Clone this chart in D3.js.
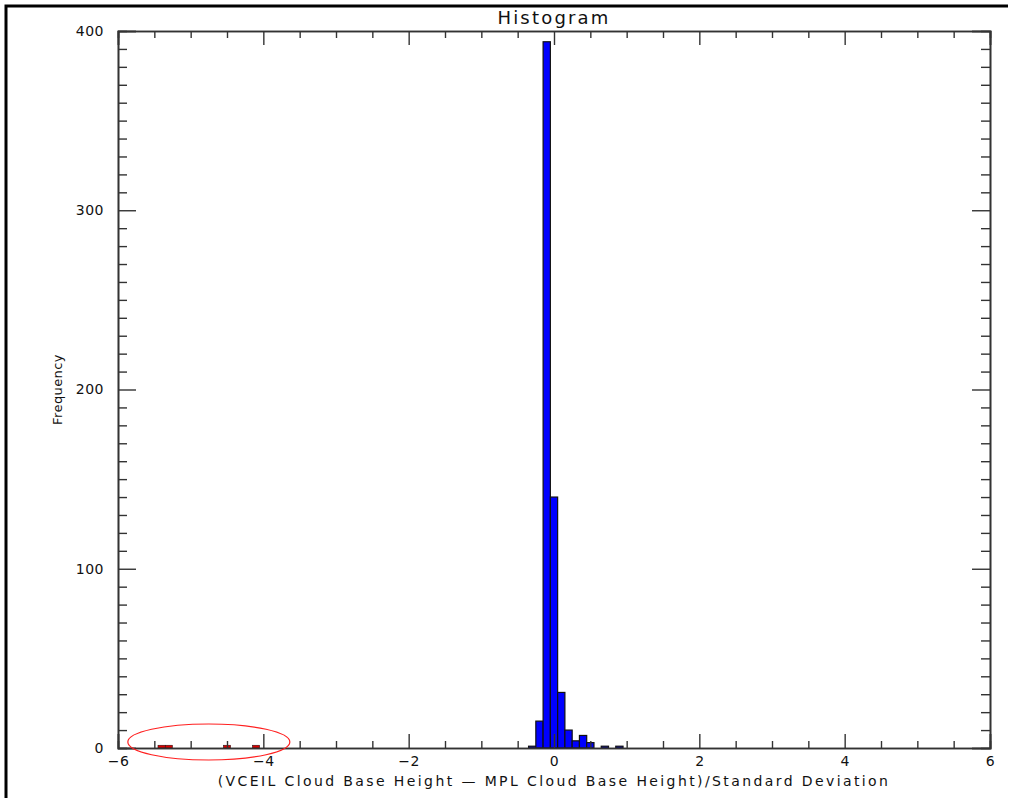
<!DOCTYPE html>
<html>
<head>
<meta charset="utf-8">
<script src="https://cdn.jsdelivr.net/npm/d3@7"></script>
<style>
  body { margin: 0; background: #fff; }
  svg { display: block; }
  text { font-family: "DejaVu Sans", "Liberation Sans", sans-serif; fill: #111; }
</style>
</head>
<body>
<svg id="chart"></svg>
<script>
// Layout variables
let width = 1013,
    height = 801;
let margin = { top: 31, right: 23, bottom: 53, left: 118 };
let w = width - margin.left - margin.right;
let h = height - margin.top - margin.bottom;

// Histogram data (bin centres, width 0.1)
let binWidth = 0.1;
let mainBins = [-0.3, -0.2, -0.1, 0.0, 0.1, 0.2, 0.3, 0.4, 0.5, 0.7, 0.9];
let mainCounts = [1, 15, 394, 140, 31, 10, 4, 7, 3, 1, 1];
let outlierBins = [-5.4, -5.3, -4.5, -4.1];
let outlierCounts = [1, 1, 1, 1];

// Axis ticks
let xMajor = [-6, -4, -2, 0, 2, 4, 6];
let yMajor = [0, 100, 200, 300, 400];

let svg = d3.select("#chart")
    .attr("width", width)
    .attr("height", height);

// outer frame (top and left only, like the screenshot)
svg.append("path")
    .attr("d", "M6,798V6H1008")
    .attr("fill", "none")
    .attr("stroke", "#000")
    .attr("stroke-width", 3);

let g = svg.append("g").attr("transform", `translate(${margin.left},${margin.top})`);

let x = d3.scaleLinear().domain([-6, 6]).range([0, w]);
let y = d3.scaleLinear().domain([0, 400]).range([h, 0]);

// bars
function drawBars(bins, counts, color, sw) {
    let data = bins.map((b, i) => ({ bin: b, count: counts[i] }));
    g.append("g").selectAll("rect")
        .data(data)
        .enter().append("rect")
        .attr("x", d => x(d.bin - binWidth / 2))
        .attr("width", d => x(d.bin + binWidth / 2) - x(d.bin - binWidth / 2))
        .attr("y", d => y(d.count) - (sw < 1 ? 1 : 0))
        .attr("height", d => h - y(d.count) + (sw < 1 ? 1 : 0))
        .attr("fill", color)
        .attr("stroke", "#111")
        .attr("stroke-width", sw);
}
drawBars(mainBins, mainCounts, "#0000ff", 1.2);
drawBars(outlierBins, outlierCounts, "#e00000", 0.5);

// axes: IDL style box with inward ticks
let xMinor = d3.range(-6, 6.001, 0.5).filter(v => !xMajor.includes(v));
let yMinor = d3.range(0, 400.001, 10).filter(v => !yMajor.includes(v));
let axisColor = "#333";

// bottom
g.append("g").attr("transform", `translate(0,${h})`)
    .call(d3.axisBottom(x).tickValues(xMajor).tickSize(-14).tickPadding(8)
        .tickFormat(d => d < 0 ? "\u2212" + Math.abs(d) : d));
g.append("g").attr("transform", `translate(0,${h})`)
    .call(d3.axisBottom(x).tickValues(xMinor).tickSize(-7).tickFormat(""));
// top
g.append("g")
    .call(d3.axisTop(x).tickValues(xMajor).tickSize(-14).tickFormat(""));
g.append("g")
    .call(d3.axisTop(x).tickValues(xMinor).tickSize(-7).tickFormat(""));
// left
g.append("g")
    .call(d3.axisLeft(y).tickValues(yMajor).tickSize(-18).tickPadding(14));
g.append("g")
    .call(d3.axisLeft(y).tickValues(yMinor).tickSize(-9).tickFormat(""));
// right
g.append("g").attr("transform", `translate(${w},0)`)
    .call(d3.axisRight(y).tickValues(yMajor).tickSize(-18).tickFormat(""));
g.append("g").attr("transform", `translate(${w},0)`)
    .call(d3.axisRight(y).tickValues(yMinor).tickSize(-9).tickFormat(""));

g.selectAll(".domain").attr("stroke", axisColor).attr("stroke-width", 1.6);
g.selectAll(".tick line").attr("stroke", axisColor).attr("stroke-width", 1.4);
g.selectAll(".tick text")
    .attr("font-family", "\"DejaVu Sans\", \"Liberation Sans\", sans-serif")
    .attr("font-size", 14)
    .attr("letter-spacing", 0.5)
    .attr("fill", "#111");

// titles
svg.append("text")
    .attr("x", margin.left + w / 2)
    .attr("y", 24)
    .attr("text-anchor", "middle")
    .attr("font-size", 18)
    .attr("letter-spacing", 2.2)
    .text("Histogram");

svg.append("text")
    .attr("x", margin.left + w / 2)
    .attr("y", 786)
    .attr("text-anchor", "middle")
    .attr("font-size", 14)
    .attr("letter-spacing", 2.4)
    .text("(VCEIL Cloud Base Height \u2014 MPL Cloud Base Height)/Standard Deviation");

svg.append("text")
    .attr("transform", `translate(62,${margin.top + h / 2}) rotate(-90)`)
    .attr("text-anchor", "middle")
    .attr("font-size", 13)
    .attr("letter-spacing", 0.4)
    .text("Frequency");

// red ellipse marking outliers
svg.append("ellipse")
    .attr("cx", margin.left + x(-4.75))
    .attr("cy", margin.top + y(0) - 6)
    .attr("rx", 81)
    .attr("ry", 18)
    .attr("fill", "none")
    .attr("stroke", "#ff2020")
    .attr("stroke-width", 1.2);
</script>
</body>
</html>
